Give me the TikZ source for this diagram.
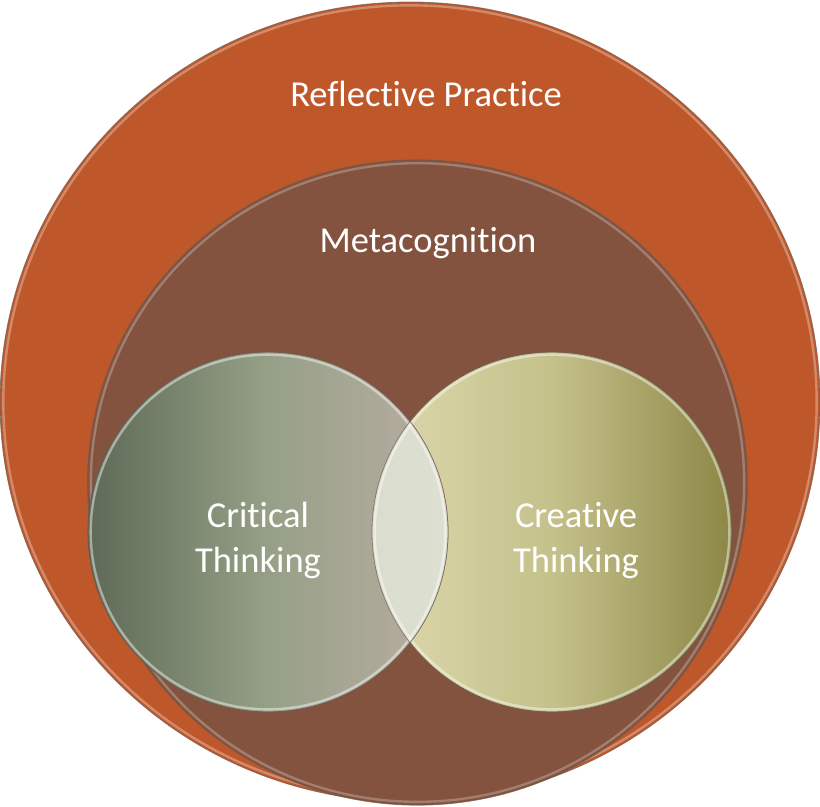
\documentclass[tikz,border=0pt]{standalone}
\usepackage{fontspec}
\setmainfont{Carlito}[RawFeature={-liga;-clig;-dlig;-calt}]
\definecolor{outerc}{HTML}{BE582B}
\definecolor{innerc}{HTML}{83533F}
\definecolor{critL}{HTML}{5E6A56}
\definecolor{critM}{HTML}{96A087}
\definecolor{critR}{HTML}{BAAEA3}
\definecolor{creaL}{HTML}{DDD9AE}
\definecolor{creaM}{HTML}{C5C18B}
\definecolor{creaR}{HTML}{8C8746}
\definecolor{overL}{HTML}{D2D6C6}
\definecolor{overR}{HTML}{DDE0D0}
\definecolor{rimc}{HTML}{6E5A4E}
\tikzset{
  lbl/.style={text=white, font=\fontsize{27.4}{33.75}\selectfont, align=center, inner sep=0pt},
  edge/.style={draw=rimc, draw opacity=0.7, line width=0.6pt},
  glow/.style={draw=white, draw opacity=#1, line width=1.8pt},
  glow/.default=0.4
}
\begin{document}
\begin{tikzpicture}[x=0.75pt,y=-0.75pt]
\useasboundingbox (0,0) rectangle (820,806);
% outer circle
\path[fill=outerc, edge] (410,402) ellipse [x radius=307.5pt, y radius=300pt];
\begin{scope}
  \clip (410,402) ellipse [x radius=307.5pt, y radius=300pt];
  \draw[glow=0.3] (410,402) ellipse [x radius=305pt, y radius=297.5pt];
\end{scope}
% inner circle
\path[fill=innerc, edge] (417.5,482.5) ellipse [x radius=247.5pt, y radius=242pt];
\begin{scope}
  \clip (417.5,482.5) ellipse [x radius=247.5pt, y radius=242pt];
  \draw[glow=0.25] (417.5,482.5) ellipse [x radius=245pt, y radius=239.5pt];
\end{scope}
% creative circle
\path[left color=creaL, right color=creaR, middle color=creaM, edge] (552,532) circle [radius=135pt];
% critical circle
\path[left color=critL, right color=critR, middle color=critM, edge] (268,532) circle [radius=135pt];
% overlap
\begin{scope}
  \clip (552,532) circle [radius=135pt];
  \path[left color=overL, right color=overR] (268,532) circle [radius=135pt];
\end{scope}
% rims
\begin{scope}
  \clip (552,532) circle [radius=135pt];
  \draw[glow=0.45] (552,532) circle [radius=133pt];
\end{scope}
\begin{scope}
  \clip (268,532) circle [radius=135pt];
  \draw[glow=0.45] (268,532) circle [radius=133pt];
\end{scope}
\draw[edge] (552,532) circle [radius=135pt];
\draw[edge] (268,532) circle [radius=135pt];
% labels
\node[lbl, anchor=base] (refl) at (426,107) {Reflective Practice};
\node[lbl, anchor=base] (meta) at (428,252) {Metacognition};
\node[lbl] (crit) at (258,540.5) {Critical\\Thinking};
\node[lbl] (crea) at (576,540.5) {Creative\\Thinking};
\end{tikzpicture}
\end{document}
